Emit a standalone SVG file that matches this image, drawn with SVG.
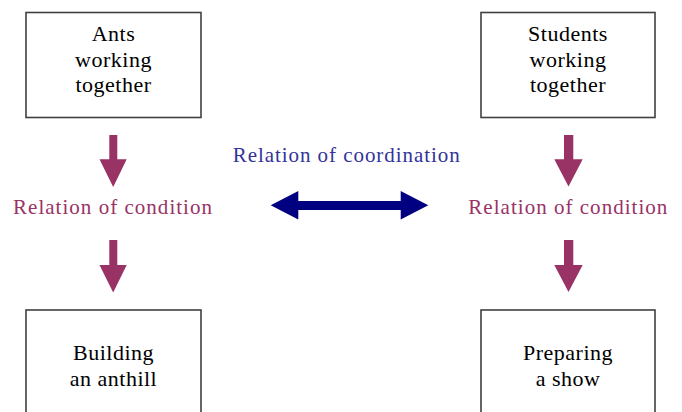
<svg xmlns="http://www.w3.org/2000/svg" width="682" height="412" viewBox="0 0 682 412">
<style>
.box{fill:#fff;stroke:#404040;stroke-width:1.6}
.t{font-family:"Liberation Serif","Times New Roman",serif;font-size:22px;letter-spacing:0.5px;fill:#000;text-anchor:middle}
.cond{font-family:"Liberation Serif","Times New Roman",serif;font-size:21px;fill:#993366}
.coord{font-family:"Liberation Serif","Times New Roman",serif;font-size:21px;fill:#333399}
.down{fill:#993366}
.dbl{fill:#000080}
</style>
<rect width="682" height="412" fill="#fff"/>
<g id="ants">
<rect class="box" x="26" y="12.5" width="175" height="105"/>
<text class="t" x="113.5" y="41">Ants</text>
<text class="t" x="113.5" y="66.5">working</text>
<text class="t" x="113.5" y="92">together</text>
</g>
<g id="students">
<rect class="box" x="481" y="12.5" width="174" height="105"/>
<text class="t" x="568" y="41">Students</text>
<text class="t" x="568" y="66.5">working</text>
<text class="t" x="568" y="92">together</text>
</g>
<g id="building">
<rect class="box" x="26" y="310" width="175" height="110"/>
<text class="t" x="113.5" y="360">Building</text>
<text class="t" x="113.5" y="385.5">an anthill</text>
</g>
<g id="preparing">
<rect class="box" x="481" y="310" width="174" height="110"/>
<text class="t" x="568" y="360">Preparing</text>
<text class="t" x="568" y="385.5">a show</text>
</g>
<g id="connectors">
<polygon class="down" points="109.3,135 117.3,135 117.3,159.3 126.7,159.3 113.2,187 99.5,159.3 109.3,159.3"/>
<polygon class="down" points="109.3,240 117.3,240 117.3,265 126.7,265 113.2,292.5 99.5,265 109.3,265"/>
<polygon class="down" points="564,135 573.3,135 573.3,159.3 582.7,159.3 568.5,186.5 554.3,159.3 564,159.3"/>
<polygon class="down" points="564,240 573.3,240 573.3,265 582.7,265 568.5,292 554.3,265 564,265"/>
<polygon class="dbl" points="270.7,205.3 298.3,191 298.3,201 400.7,201 400.7,191 428.3,205.3 400.7,219.5 400.7,210 298.3,210 298.3,219.5"/>
</g>
<g id="label-cond-left">
<text class="cond" x="13" y="213.5" textLength="199" lengthAdjust="spacing">Relation of condition</text>
</g>
<g id="label-cond-right">
<text class="cond" x="468.3" y="213.5" textLength="199" lengthAdjust="spacing">Relation of condition</text>
</g>
<g id="label-coord">
<text class="coord" x="232.7" y="161.5" textLength="227" lengthAdjust="spacing">Relation of coordination</text>
</g>
</svg>
